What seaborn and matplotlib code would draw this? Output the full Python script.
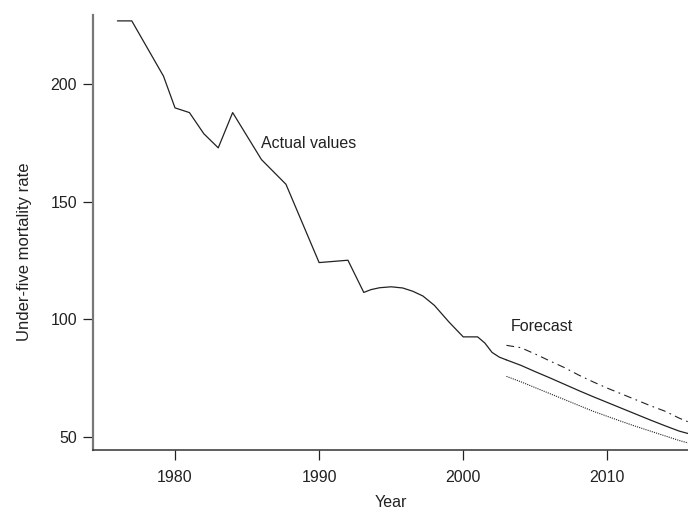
import matplotlib
matplotlib.use("Agg")
import matplotlib.pyplot as plt
import seaborn as sns
import pandas as pd

# Actual values
actual_years = [1976, 1977, 1979.2, 1980, 1981, 1982, 1983, 1984, 1986, 1987.7,
                1990, 1992, 1993.1, 1993.6, 1994.2, 1995, 1995.8, 1996.5, 1997.2, 1998, 1999, 2000,
                2001, 2001.5, 2002, 2002.5, 2003]
actual_vals = [227, 227, 203.5, 190, 188, 179, 173, 188, 168, 157.5,
               124.2, 125.2, 111.5, 112.7, 113.5, 113.9, 113.4, 112.0, 110.0, 106.0, 99.0, 92.6,
               92.6, 90.0, 86.0, 84.0, 82.8]

# Forecast
fc_years = [2003, 2004, 2005, 2006, 2007, 2008, 2009, 2010, 2011, 2012, 2013, 2014, 2015, 2015.6]
fc_mid = [82.8, 80.5, 77.8, 75.2, 72.5, 69.8, 67.2, 64.7, 62.2, 59.7, 57.2, 54.8, 52.5, 51.5]
fc_upper = [89.0, 88.0, 85.3, 82.4, 79.6, 76.4, 73.5, 70.8, 68.3, 65.8, 63.3, 61.0, 58.0, 56.5]
fc_lower = [75.8, 73.5, 71.0, 68.5, 66.0, 63.5, 61.0, 58.8, 56.6, 54.5, 52.5, 50.5, 48.5, 47.5]

x_ticks = [1980, 1990, 2000, 2010]
y_ticks = [50, 100, 150, 200]

sns.set_style("ticks")
plt.rcParams["font.family"] = ["Liberation Sans Narrow", "Liberation Sans", "DejaVu Sans"]

fig = plt.figure(figsize=(6.88, 5.09), dpi=100)
ax = fig.add_axes([0.135, 0.116, 0.865, 0.8545])

line_col = "#222222"
df_a = pd.DataFrame({"Year": actual_years, "v": actual_vals})
sns.lineplot(data=df_a, x="Year", y="v", ax=ax, color=line_col, lw=0.9, sort=False)

df_m = pd.DataFrame({"Year": fc_years, "v": fc_mid})
sns.lineplot(data=df_m, x="Year", y="v", ax=ax, color=line_col, lw=0.9, sort=False)
df_u = pd.DataFrame({"Year": fc_years, "v": fc_upper})
sns.lineplot(data=df_u, x="Year", y="v", ax=ax, color=line_col, lw=0.8, sort=False,
             linestyle=(0, (7, 4, 1.5, 4)))
df_l = pd.DataFrame({"Year": fc_years, "v": fc_lower})
sns.lineplot(data=df_l, x="Year", y="v", ax=ax, color=line_col, lw=0.8, sort=False,
             linestyle=(0, (1, 1)))

ax.set_xlim(1974.3, 2015.6)
ax.set_ylim(44.5, 229.5)
ax.set_xticks(x_ticks)
ax.set_yticks(y_ticks)

fs = 11.5
ax.tick_params(axis="both", direction="out", length=7.5, width=0.9, colors="#222222",
               labelsize=fs, labelcolor="#222222")
ax.tick_params(axis="x", pad=7)
ax.tick_params(axis="y", pad=4)

for s in ["top", "right"]:
    ax.spines[s].set_visible(False)
ax.spines["left"].set_color("#777777")
ax.spines["left"].set_linewidth(1.6)
ax.spines["bottom"].set_color("#333333")
ax.spines["bottom"].set_linewidth(1.1)

ax.set_xlabel("Year", fontsize=fs, color="#222222")
ax.set_ylabel("Under-five mortality rate", fontsize=fs + 0.5, color="#222222")
ax.xaxis.set_label_coords(0.5, -0.104)
ax.yaxis.set_label_coords(-0.102, 0.455)

ax.text(1986.0, 175, "Actual values", fontsize=fs, color="#222222", va="center", ha="left")
ax.text(2003.3, 97.2, "Forecast", fontsize=fs, color="#222222", va="center", ha="left")

fig.savefig("out.png", dpi=100)
